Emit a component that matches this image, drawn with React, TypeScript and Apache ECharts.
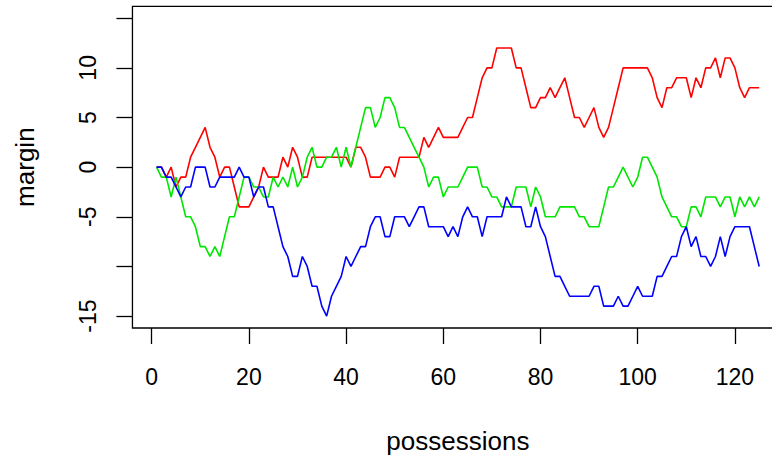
import React, { useEffect, useRef } from "react";
import * as echarts from "echarts";

// possession index 1..125
const possessions: number[] = Array.from({ length: 125 }, (_, i) => i + 1);

const redMargin: number[] = [
  0, 0, -1, 0, -2, -1, -1, 1, 2, 3, 4, 2, 1, -1, 0,
  0, -2, -4, -4, -4, -3, -2, 0, -1, -1, -1, 1, 0, 2, 1,
  -1, -1, 1, 1, 1, 1, 1, 1, 1, 1, 0, 2, 2, 1, -1, -1,
  -1, 0, 0, -1, 1, 1, 1, 1, 1, 3, 2, 3, 4, 3, 3, 3, 3, 4,
  5, 5, 7, 9, 10, 10, 12, 12, 12, 12, 10, 10, 8, 6, 6, 7,
  7, 8, 7, 8, 9, 7, 5, 5, 4, 5, 6, 4, 3, 4, 6, 8, 10,
  10, 10, 10, 10, 10, 9, 7, 6, 8, 8, 9, 9, 9, 7, 9, 8,
  10, 10, 11, 9, 11, 11, 10, 8, 7, 8, 8, 8,
];

const greenMargin: number[] = [
  0, -1, -1, -3, -1, -3, -5, -5, -6, -8, -8, -9, -8, -9, -7,
  -5, -5, -3, -1, -1, -2, -2, -3, -3, -1, -2, -1, -2, 0, -2,
  -1, 1, 2, 0, 0, 1, 1, 2, 0, 2, 0, 2, 4, 6, 6, 4,
  5, 7, 7, 6, 4, 4, 3, 2, 1, 0, -2, -1, -1, -3, -2, -2, -2, -1,
  0, 0, 0, -2, -2, -3, -3, -4, -4, -4, -2, -2, -2, -4, -2, -3,
  -5, -5, -5, -4, -4, -4, -4, -5, -5, -6, -6, -6, -4, -2, -2, -1, 0,
  -1, -2, -1, 1, 1, 0, -1, -3, -4, -5, -5, -6, -6, -4, -4, -5,
  -3, -3, -3, -4, -3, -3, -5, -3, -4, -3, -4, -3,
];

const blueMargin: number[] = [
  0, 0, -1, -1, -2, -3, -2, -2, 0, 0, 0, -2, -2, -1, -1,
  -1, -1, 0, -1, -1, -3, -2, -2, -4, -4, -6, -8, -9, -11, -11,
  -9, -10, -12, -12, -14, -15, -13, -12, -11, -9, -10, -9, -8, -8, -6, -5,
  -5, -7, -7, -5, -5, -5, -6, -5, -4, -4, -6, -6, -6, -6, -7, -6, -7, -5,
  -4, -5, -5, -7, -5, -5, -5, -5, -3, -4, -4, -4, -6, -6, -4, -6,
  -7, -9, -11, -11, -12, -13, -13, -13, -13, -13, -12, -12, -14, -14, -14, -13, -14,
  -14, -13, -12, -13, -13, -13, -11, -11, -10, -9, -9, -7, -6, -8, -7, -9,
  -9, -10, -9, -7, -9, -7, -6, -6, -6, -6, -8, -10,
];

const xTicks: number[] = [0, 20, 40, 60, 80, 100, 120];
const yTicks: number[] = [-15, -10, -5, 0, 5, 10, 15];
const yLabels: number[] = [-15, -5, 0, 5, 10];

const FONT = "'Liberation Sans', Arial, sans-serif";

export default function App() {
  const ref = useRef<HTMLDivElement>(null);

  useEffect(() => {
    if (!ref.current) return;
    const chart = echarts.init(ref.current, null, { renderer: "svg" });
    const toPairs = (arr: number[]) => arr.map((v, i) => [possessions[i], v]);
    const tickStyle = { color: "#000", width: 1.3 };
    const labelStyle = { fontSize: 23, color: "#000", fontFamily: FONT };
    const nameStyle = { fontSize: 26, color: "#000", fontFamily: FONT };

    chart.setOption({
      animation: false,
      backgroundColor: "#ffffff",
      grid: {
        left: 132.45,
        top: 6.3,
        right: 0.7,
        bottom: 128.7,
        show: true,
        borderColor: "#000",
        borderWidth: 1.3,
        backgroundColor: "transparent",
      },
      xAxis: {
        type: "value",
        min: -3.96,
        max: 129.96,
        splitLine: { show: false },
        axisLine: { show: false, onZero: false },
        axisTick: { show: true, length: 16, customValues: xTicks, lineStyle: tickStyle },
        axisLabel: { customValues: xTicks, margin: 37, ...labelStyle },
        name: "possessions",
        nameLocation: "middle",
        nameGap: 100,
        nameTextStyle: nameStyle,
      },
      yAxis: {
        type: "value",
        min: -16.2,
        max: 16.2,
        splitLine: { show: false },
        axisLine: { show: false, onZero: false },
        axisTick: { show: true, length: 16, customValues: yTicks, lineStyle: tickStyle },
        axisLabel: { customValues: yLabels, margin: 33, rotate: 90, ...labelStyle },
        name: "margin",
        nameLocation: "middle",
        nameGap: 94,
        nameTextStyle: nameStyle,
      },
      series: [
        {
          type: "line",
          name: "red",
          data: toPairs(redMargin),
          showSymbol: false,
          lineStyle: { color: "#ff0000", width: 1.6 },
          itemStyle: { color: "#ff0000" },
        },
        {
          type: "line",
          name: "green",
          data: toPairs(greenMargin),
          showSymbol: false,
          lineStyle: { color: "#00e600", width: 1.6 },
          itemStyle: { color: "#00e600" },
        },
        {
          type: "line",
          name: "blue",
          data: toPairs(blueMargin),
          showSymbol: false,
          lineStyle: { color: "#0000ff", width: 1.6 },
          itemStyle: { color: "#0000ff" },
        },
      ],
    });

    return () => chart.dispose();
  }, []);

  return (
    <div
      style={{
        position: "absolute",
        left: 0,
        top: 0,
        width: 772,
        height: 459,
        overflow: "hidden",
        background: "#fff",
      }}
    >
      <div ref={ref} style={{ width: 784, height: 459 }} />
    </div>
  );
}
